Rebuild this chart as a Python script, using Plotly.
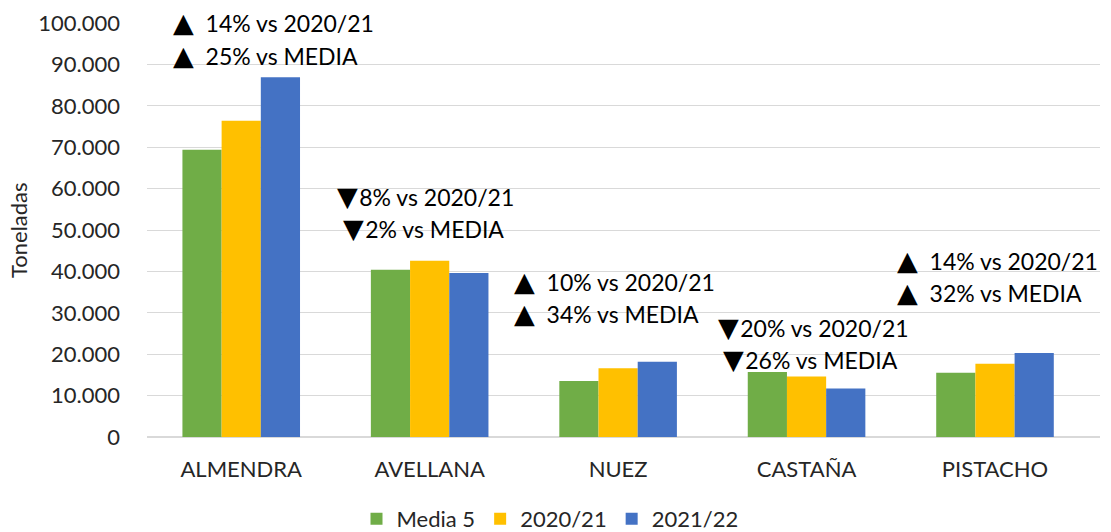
import plotly.graph_objects as go

categories = ["ALMENDRA", "AVELLANA", "NUEZ", "CASTAÑA", "PISTACHO"]
media5 = [69400, 40400, 13500, 15700, 15500]
v2020_21 = [76400, 42600, 16600, 14600, 17700]
v2021_22 = [86900, 39600, 18200, 11700, 20300]
series_names = ["Media 5", "2020/21", "2021/22"]
colors = ["#70AD47", "#FFC000", "#4472C4"]

# annotation texts per category: (arrow, line vs 2020/21), (arrow, line vs MEDIA)
note_arrow1 = ["▲", "▼", "▲", "▼", "▲"]
note_text1 = ["  14% vs 2020/21", "\u200a8% vs 2020/21", "  10% vs 2020/21", "\u200a20% vs 2020/21", "  14% vs 2020/21"]
note_arrow2 = ["▲", "▼", "▲", "▼", "▲"]
note_text2 = ["  25% vs MEDIA", "\u200a2% vs MEDIA", "  34% vs MEDIA", "\u200a26% vs MEDIA", "  32% vs MEDIA"]
note_y1 = [100240, 58210, 37440, 26570, 42750]
note_y2 = [92270, 50480, 29950, 18600, 35020]
note_shift1 = [-70, -95, -106, -91, -100]
note_shift2 = [-70, -89, -106, -86, -100]

y_max = 100000
tickvals = list(range(0, y_max + 1, 10000))
ticktext = ["0" if v == 0 else f"{v:,}".replace(",", ".") for v in tickvals]

FONT = "Lato"
TXT = "#262626"

fig = go.Figure()
for name, vals, col in zip(series_names, [media5, v2020_21, v2021_22], colors):
    fig.add_trace(go.Bar(x=categories, y=vals, name=name, marker=dict(color=col, line=dict(width=0))))

def note(arrow, txt):
    return f'<span style="font-family:\'DejaVu Sans\';font-size:27px">{arrow}</span>{txt}'

for i, cat in enumerate(categories):
    for a, txt, yy, sh in [(note_arrow1[i], note_text1[i], note_y1[i], note_shift1[i]),
                           (note_arrow2[i], note_text2[i], note_y2[i], note_shift2[i])]:
        fig.add_annotation(x=cat, y=yy / y_max, yref="paper", text=note(a, txt), showarrow=False,
                           xanchor="left", yanchor="middle", xshift=sh,
                           font=dict(family=FONT, size=23, color="#000000"))

fig.add_annotation(x=(18 - 147) / 953, xref="paper", y=(437 - 230) / 414, yref="paper",
                   text="Toneladas", textangle=-90, showarrow=False,
                   xanchor="center", yanchor="middle",
                   font=dict(family=FONT, size=22, color=TXT))

fig.update_layout(
    width=1111, height=532,
    margin=dict(l=147, r=11, t=23, b=95, autoexpand=False),
    paper_bgcolor="white", plot_bgcolor="white",
    barmode="group", bargap=0.376, bargroupgap=0,
    font=dict(family=FONT, color=TXT),
    legend=dict(orientation="h", x=(550 - 147) / 953, xanchor="center",
                y=(437 - 519) / 414, yanchor="middle", font=dict(size=22, color=TXT),
                traceorder="normal", itemwidth=30),
    showlegend=True,
)
fig.update_yaxes(range=[0, y_max], tickvals=tickvals, ticktext=ticktext, showgrid=True,
                 gridcolor="#D9D9D9", gridwidth=1, zeroline=True, zerolinecolor="#D9D9D9",
                 tickfont=dict(size=22, color=TXT), ticks="", automargin=False,
                 ticklabelstandoff=26)
fig.update_xaxes(tickfont=dict(size=22, color=TXT), showline=True, linecolor="#D9D9D9",
                 ticks="", automargin=False, ticklabelstandoff=13)

fig.write_html("out.html", config={"displayModeBar": False},
               post_script="document.body.style.margin='0px';document.body.style.overflow='hidden';")
